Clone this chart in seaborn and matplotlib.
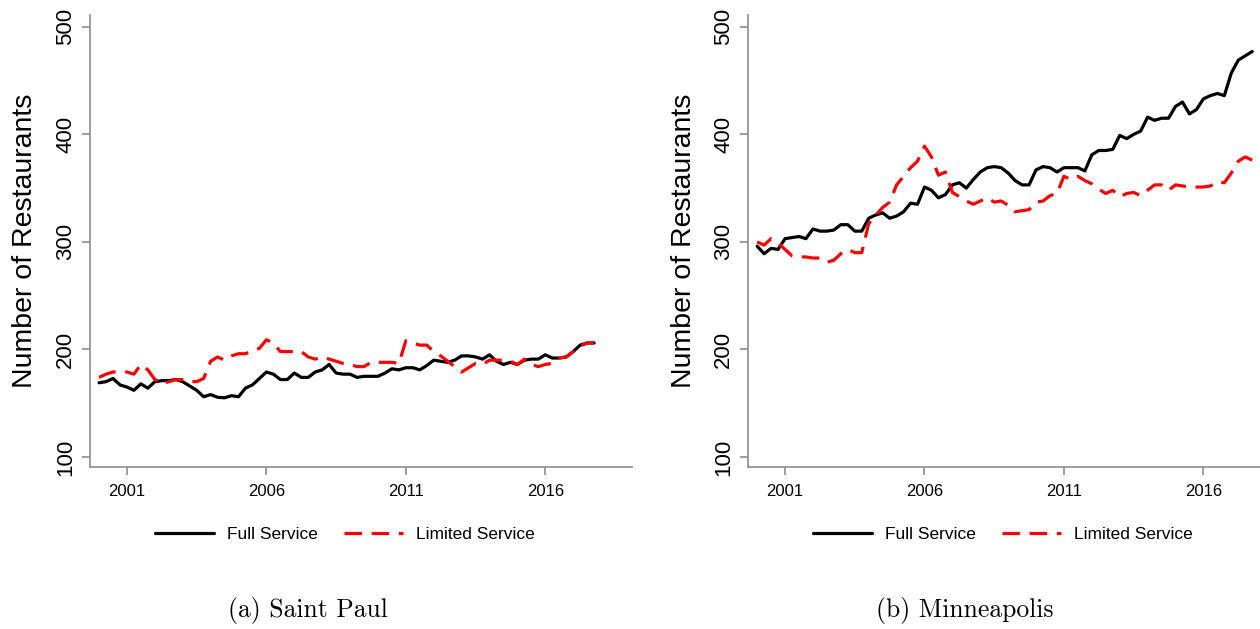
import matplotlib

matplotlib.use('Agg')
import matplotlib.pyplot as plt
import numpy as np
import pandas as pd
import seaborn as sns

# quarterly counts, 2000q1 .. 2017q4
quarters = np.arange(2000, 2018, 0.25)

sp_full = [169, 170, 173, 167, 165, 162, 168, 164, 170, 171, 171, 172, 170, 166, 162, 156,
           158, 155.5, 155, 157, 156, 164, 167, 173, 179, 177, 172, 172, 178, 174, 174, 179,
           181, 186, 178, 177, 177, 174, 175, 175, 175, 178, 182, 181, 183, 183, 181, 185,
           190, 189, 188, 190, 194, 194, 193, 191, 195, 189, 186, 188, 186, 190, 191, 191,
           195, 192, 192, 193, 198, 204, 206, 206]
sp_limited = [174, 177, 179, 179, 179, 177, 186, 181, 172, 168, 170, 172, 172, 170, 170, 173,
              189, 193, 190, 194, 196, 196, 199, 201, 209, 206, 198, 198, 198, 198, 193, 191,
              193, 191, 189, 187, 186, 184, 184, 188, 188, 188, 188, 187, 208, 206, 204, 204,
              198, 194, 189, 184, 179, 183, 187, 186, 190, 190, 190, 189, 186, 191, 186, 184,
              186, 187, 192, 193, 198, 203, 206, 206]
mp_full = [296, 289, 294, 293, 303, 304, 305, 303, 312, 310, 310, 311, 316, 316, 310, 310,
           322, 325, 327, 322, 324, 328, 336, 335, 351, 348, 341, 344, 353, 355, 350, 358,
           365, 369, 370, 369, 364, 357, 353, 353, 367, 370, 369, 365, 369, 369, 369, 366,
           381, 385, 385, 386, 399, 396, 400, 403, 416, 413, 415, 415, 426, 430, 419, 423,
           433, 436, 438, 436, 457, 469, 473, 477]
mp_limited = [300, 297, 303, 299, 293, 287, 286, 286, 285, 285, 281, 283, 289, 293, 290, 290,
              317, 325, 332, 337, 353, 361, 369, 375, 389, 379, 362, 365, 346, 342, 338, 335,
              338, 341, 337, 338, 334, 328, 329, 330, 337, 338, 343, 345, 361, 358, 361, 357,
              354, 349, 345, 348, 342, 345, 346, 343, 348, 353, 353, 348, 353, 352, 351, 351,
              351, 352, 356, 355, 364, 375, 379, 376]

panels = [("(a) Saint Paul", sp_full, sp_limited), ("(b) Minneapolis", mp_full, mp_limited)]
series_names = ["Full Service", "Limited Service"]
year_ticks = [2001, 2006, 2011, 2016]
y_ticks = [100, 200, 300, 400, 500]

sns.set_style('white')
plt.rcParams['font.family'] = ['Liberation Sans', 'DejaVu Sans']
plt.rcParams['text.color'] = 'black'
plt.rcParams['axes.labelcolor'] = 'black'
plt.rcParams['xtick.color'] = 'black'
plt.rcParams['ytick.color'] = 'black'

fig = plt.figure(figsize=(12.6, 6.29), dpi=100)
axes_pos = [[0.0714, 0.2576, 0.430, 0.7186], [0.5937, 0.2576, 0.430, 0.7186]]
caption_x = [0.2444, 0.766]
grey = '#8c8c8c'

for k, (caption, full, limited) in enumerate(panels):
    ax = fig.add_axes(axes_pos[k])
    df = pd.DataFrame({
        'quarter': np.concatenate([quarters, quarters]),
        'count': np.concatenate([full, limited]),
        'type': [series_names[0]] * len(quarters) + [series_names[1]] * len(quarters),
    })
    sns.lineplot(data=df, x='quarter', y='count', hue='type', style='type',
                 palette={series_names[0]: 'black', series_names[1]: 'red'},
                 dashes={series_names[0]: '', series_names[1]: (5.5, 3)},
                 linewidth=2.3, ax=ax, legend=False)

    ax.set_xlim(1999.674, 2019.1)
    ax.set_ylim(90.7, 511)
    ax.set_xticks(year_ticks)
    ax.set_yticks(y_ticks)
    ax.set_xlabel('')
    ax.set_ylabel('Number of Restaurants', fontsize=20.5, labelpad=12)
    for s in ['top', 'right']:
        ax.spines[s].set_visible(False)
    for s in ['left', 'bottom']:
        ax.spines[s].set_color(grey)
        ax.spines[s].set_linewidth(1.2)
    ax.tick_params(axis='both', which='both', direction='out', length=6, width=1.2,
                   color=grey, labelcolor='black', left=True, bottom=True)
    ax.tick_params(axis='y', labelsize=16, pad=4)
    ax.tick_params(axis='x', labelsize=12, pad=6)
    for lab in ax.get_yticklabels():
        lab.set_rotation(90)
        lab.set_va('center')

    lines = ax.get_lines()
    ax.legend(lines[:2], series_names, loc='center', bbox_to_anchor=(0.47, -0.150),
              ncol=2, frameon=False, handlelength=3.4, columnspacing=1.5,
              handletextpad=0.75, prop={'size': 12.5})

    fig.text(caption_x[k], 0.03, caption, ha='center', va='center', fontsize=18.5,
             family=['cmr10', 'DejaVu Serif'])

fig.savefig('out.png', dpi=100)
plt.close(fig)
